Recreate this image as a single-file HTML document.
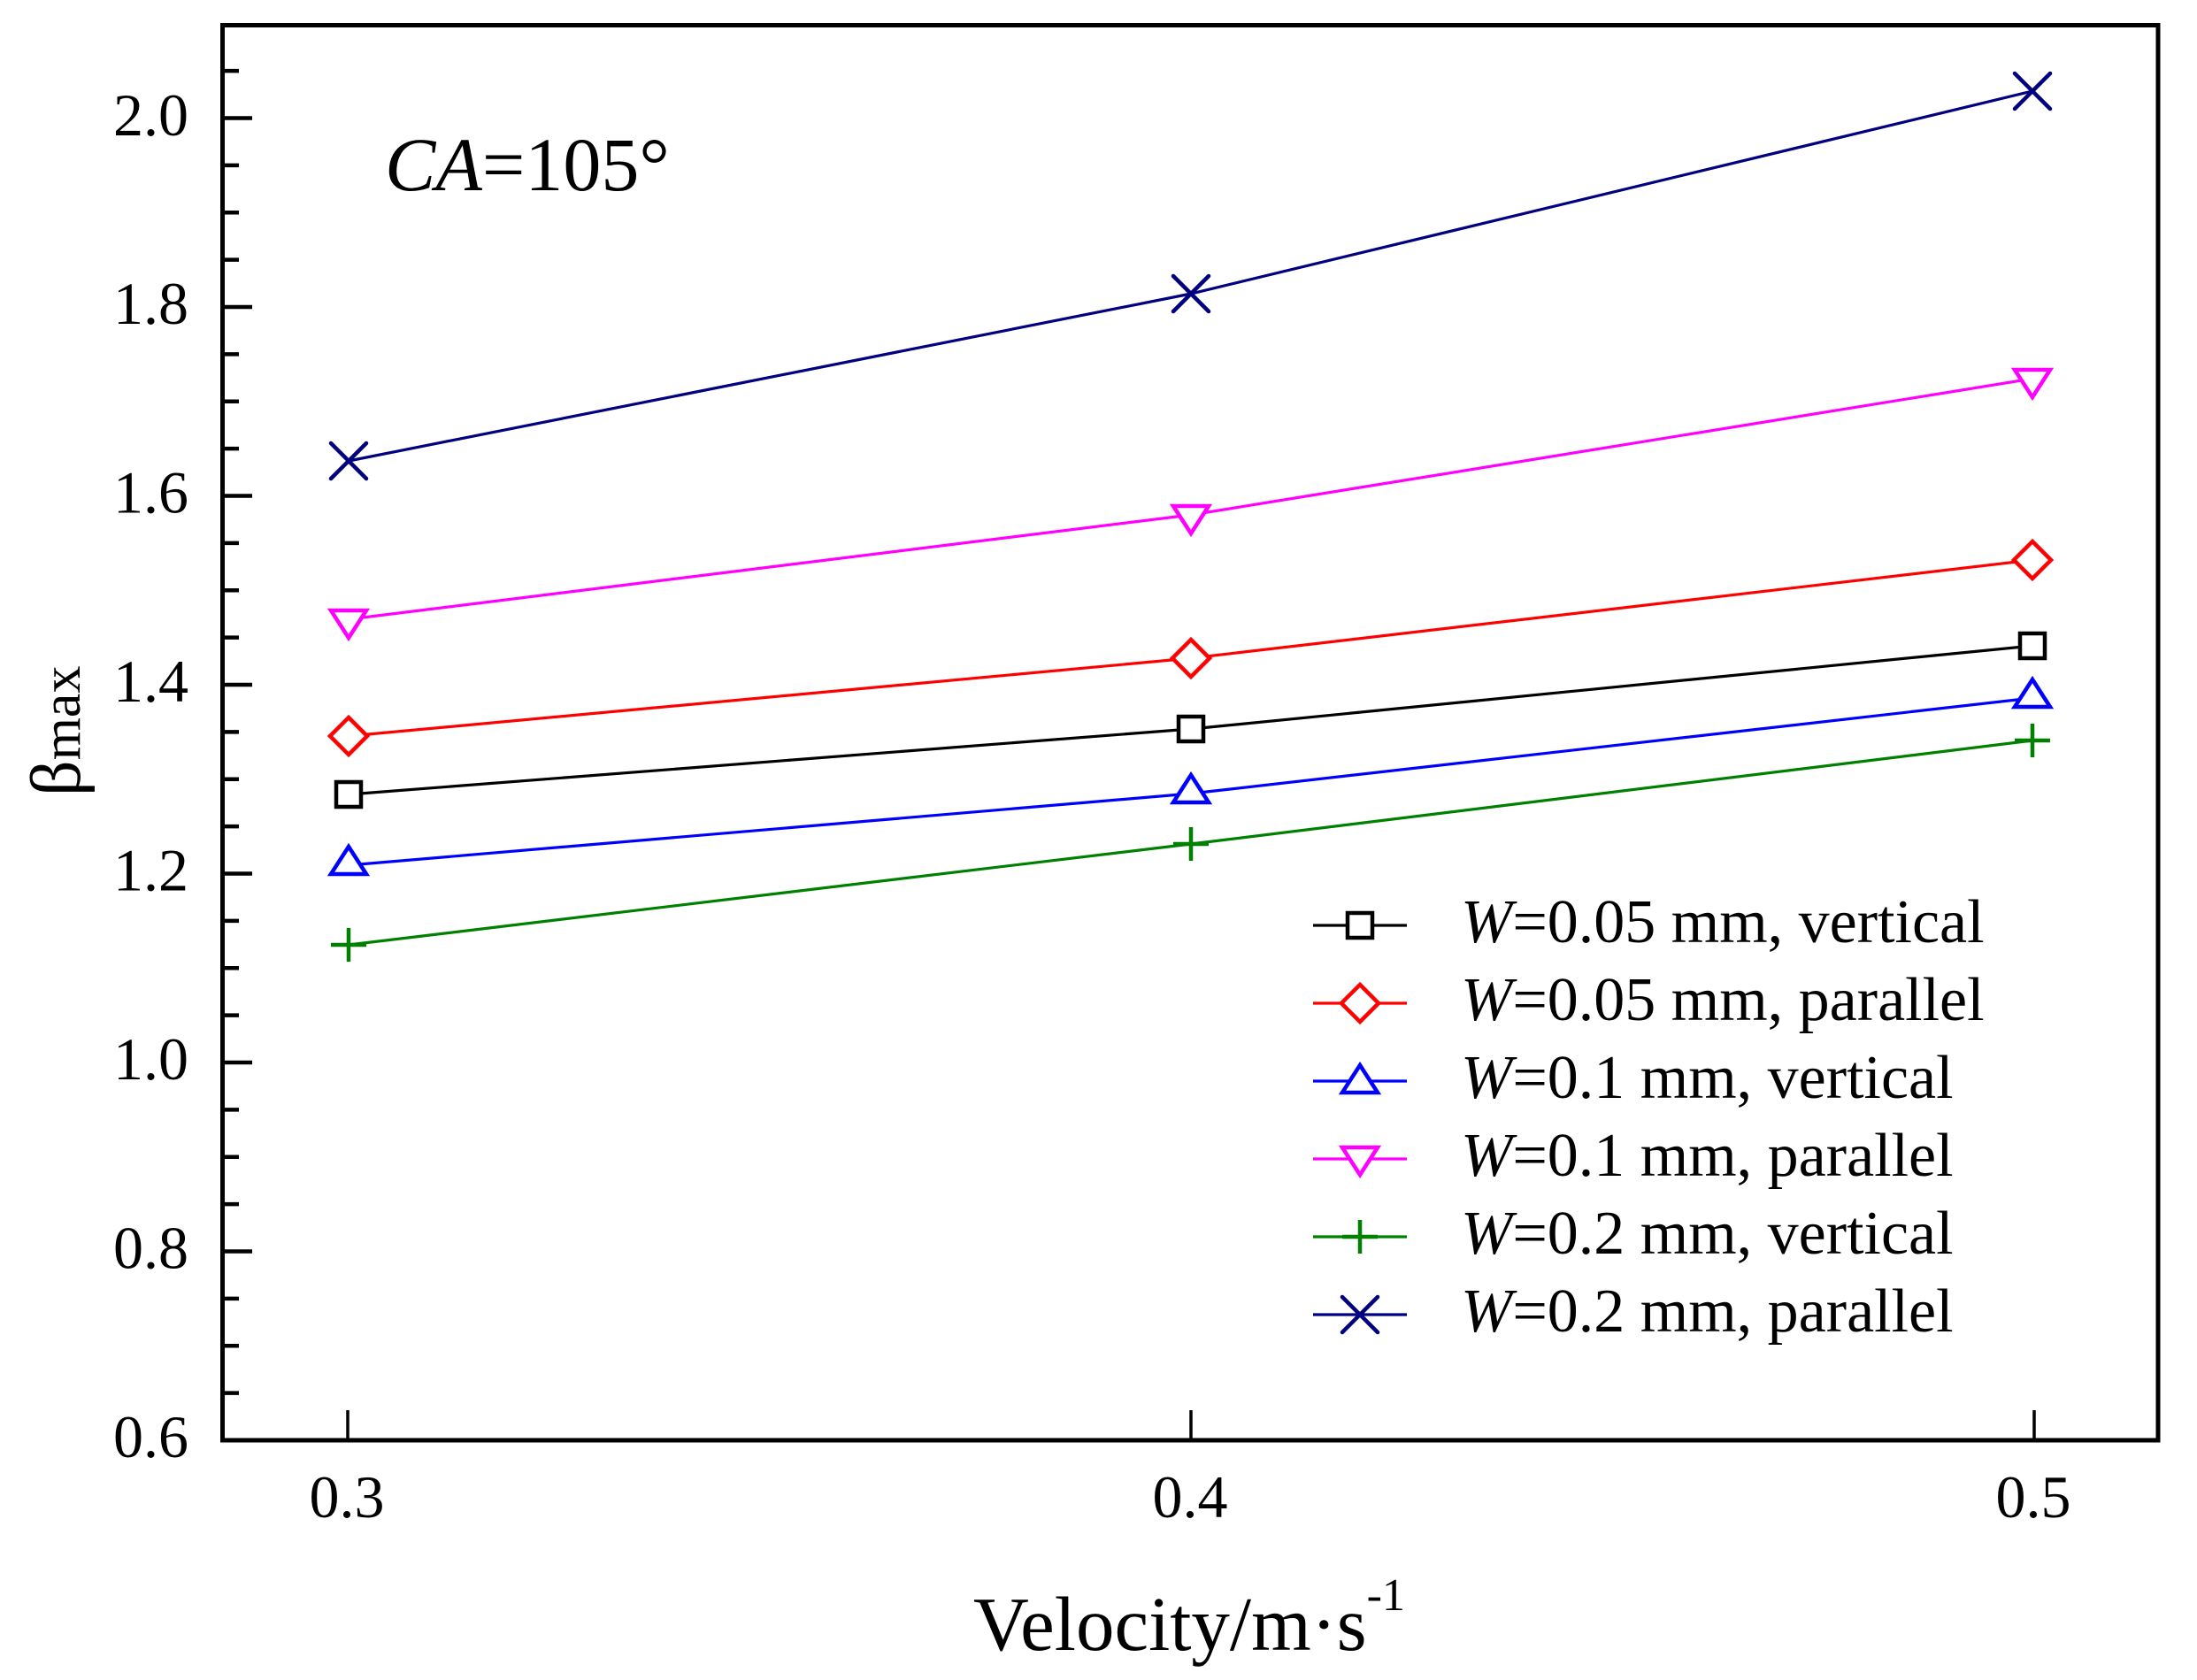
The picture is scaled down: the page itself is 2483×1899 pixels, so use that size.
<!DOCTYPE html>
<html>
<head>
<meta charset="utf-8">
<style>
  html, body { margin: 0; padding: 0; background: #ffffff; }
  svg { display: block; }
  text { font-family: "Liberation Serif", "Times New Roman", serif; fill: #000; }
</style>
</head>
<body>
<svg width="2483" height="1899" viewBox="0 0 2483 1899" xmlns="http://www.w3.org/2000/svg">
  <defs>
    <g id="sq"><rect x="-14" y="-14" width="28" height="28" fill="#fff" stroke="#000" stroke-width="4.5"/></g>
    <g id="dia"><polygon points="0,-21 21,0 0,21 -21,0" fill="#fff" stroke="#ff0000" stroke-width="4.5" stroke-linejoin="miter"/></g>
    <g id="tu"><polygon points="0,-21 20,10 -20,10" fill="#fff" stroke="#0000ff" stroke-width="4.5" stroke-linejoin="miter"/></g>
    <g id="td"><polygon points="-20,-10 20,-10 0,21" fill="#fff" stroke="#ff00ff" stroke-width="4.5" stroke-linejoin="miter"/></g>
    <g id="pl"><path d="M0,-19 V19 M-20,0 H20" stroke="#008000" stroke-width="4.5" fill="none"/></g>
    <g id="xx"><path d="M-20,-20 L20,20 M20,-20 L-20,20" stroke="#000080" stroke-width="4.5" stroke-linecap="round" fill="none"/></g>
  </defs>

  <rect x="0" y="0" width="2483" height="1899" fill="#ffffff"/>

  <!-- Data lines -->
  <g fill="none" stroke-width="3.2">
    <polyline points="394,521 1346,332 2297,103" stroke="#000080"/>
    <polyline points="394,700 1346,582 2297,428" stroke="#ff00ff"/>
    <polyline points="394,832 1346,744 2297,633" stroke="#ff0000"/>
    <polyline points="394,898 1346,824 2297,730" stroke="#000000"/>
    <polyline points="394,978 1346,897 2297,789" stroke="#0000ff"/>
    <polyline points="394,1068 1346,954 2297,837" stroke="#008000"/>
  </g>

  <!-- Markers -->
  <use href="#xx" x="394" y="521"/><use href="#xx" x="1346" y="332"/><use href="#xx" x="2297" y="103"/>
  <use href="#td" x="394" y="700"/><use href="#td" x="1346" y="582"/><use href="#td" x="2297" y="428"/>
  <use href="#dia" x="394" y="832"/><use href="#dia" x="1346" y="744"/><use href="#dia" x="2297" y="633"/>
  <use href="#sq" x="394" y="898"/><use href="#sq" x="1346" y="824"/><use href="#sq" x="2297" y="730"/>
  <use href="#tu" x="394" y="978"/><use href="#tu" x="1346" y="897"/><use href="#tu" x="2297" y="789"/>
  <use href="#pl" x="394" y="1068"/><use href="#pl" x="1346" y="954"/><use href="#pl" x="2297" y="837"/>

  <!-- Frame -->
  <rect x="251.5" y="28.5" width="2187.5" height="1599.5" fill="none" stroke="#000" stroke-width="5"/>

  <!-- Y ticks -->
  <path d="M251,1628H285 M251,1414.5H285 M251,1201H285 M251,987.5H285 M251,774H285 M251,560.5H285 M251,347H285 M251,133.5H285" stroke="#000" stroke-width="4.5" fill="none"/>
  <path d="M251,1574.6H270 M251,1521.3H270 M251,1467.9H270 M251,1361.1H270 M251,1307.8H270 M251,1254.4H270 M251,1147.6H270 M251,1094.3H270 M251,1040.9H270 M251,934.1H270 M251,880.8H270 M251,827.4H270 M251,720.6H270 M251,667.3H270 M251,613.9H270 M251,507.1H270 M251,453.8H270 M251,400.4H270 M251,293.6H270 M251,240.3H270 M251,186.9H270 M251,80.1H270" stroke="#000" stroke-width="4.5" fill="none"/>

  <!-- X ticks -->
  <path d="M393,1628V1594 M1346,1628V1594 M2299,1628V1594" stroke="#000" stroke-width="3.5" fill="none"/>

  <!-- Y tick labels -->
  <g font-size="68" text-anchor="end">
    <text x="213" y="1647">0.6</text>
    <text x="213" y="1433.5">0.8</text>
    <text x="213" y="1220">1.0</text>
    <text x="213" y="1006.5">1.2</text>
    <text x="213" y="793">1.4</text>
    <text x="213" y="579.5">1.6</text>
    <text x="213" y="366">1.8</text>
    <text x="213" y="153">2.0</text>
  </g>

  <!-- X tick labels -->
  <g font-size="68" text-anchor="middle">
    <text x="392" y="1715">0.3</text>
    <text x="1345" y="1715">0.4</text>
    <text x="2298" y="1715">0.5</text>
  </g>

  <!-- X axis title -->
  <text x="1100" y="1865" font-size="87">Velocity/m·s<tspan font-size="52" dy="-45">-1</tspan></text>

  <!-- Y axis title -->
  <g transform="translate(90,900) rotate(-90)">
    <text x="0" y="0" font-size="80">β<tspan font-size="62">max</tspan></text>
  </g>

  <!-- Annotation -->
  <text x="435" y="215" font-size="86"><tspan font-style="italic">CA</tspan>=105°</text>

  <!-- Legend -->
  <g stroke-width="3.2" fill="none">
    <line x1="1484" y1="1046" x2="1590" y2="1046" stroke="#000000"/>
    <line x1="1484" y1="1134" x2="1590" y2="1134" stroke="#ff0000"/>
    <line x1="1484" y1="1222" x2="1590" y2="1222" stroke="#0000ff"/>
    <line x1="1484" y1="1310" x2="1590" y2="1310" stroke="#ff00ff"/>
    <line x1="1484" y1="1398" x2="1590" y2="1398" stroke="#008000"/>
    <line x1="1484" y1="1486" x2="1590" y2="1486" stroke="#000080"/>
  </g>
  <use href="#sq" x="1537" y="1046"/>
  <use href="#dia" x="1537" y="1134"/>
  <use href="#tu" x="1537" y="1225"/>
  <use href="#td" x="1537" y="1307"/>
  <use href="#pl" x="1537" y="1398"/>
  <use href="#xx" x="1537" y="1486"/>

  <g font-size="70">
    <text x="1651" y="1065"><tspan font-style="italic">W</tspan>=0.05 mm, vertical</text>
    <text x="1651" y="1153"><tspan font-style="italic">W</tspan>=0.05 mm, parallel</text>
    <text x="1651" y="1241"><tspan font-style="italic">W</tspan>=0.1 mm, vertical</text>
    <text x="1651" y="1329"><tspan font-style="italic">W</tspan>=0.1 mm, parallel</text>
    <text x="1651" y="1417"><tspan font-style="italic">W</tspan>=0.2 mm, vertical</text>
    <text x="1651" y="1505"><tspan font-style="italic">W</tspan>=0.2 mm, parallel</text>
  </g>
</svg>
</body>
</html>
